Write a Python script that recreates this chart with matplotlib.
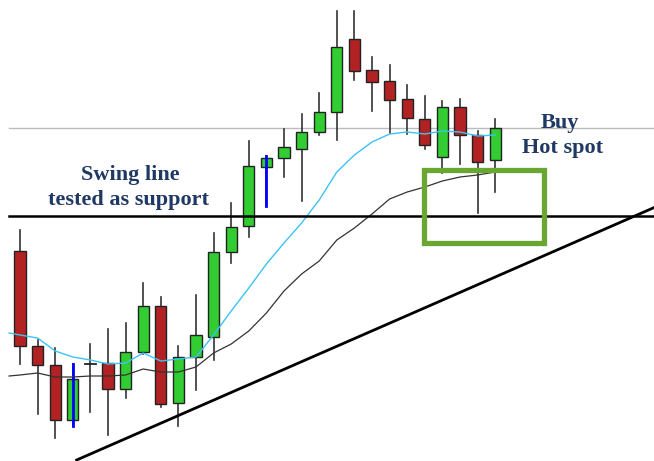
import numpy as np
import matplotlib.pyplot as plt
from matplotlib.patches import Rectangle

# daily candles, oldest first
opens  = [210, 115, 96, 41, 97, 98, 72, 109, 155, 58, 104, 124, 209, 235,
          294, 303, 312, 329, 349, 422, 391, 380, 362, 342, 304, 354, 326, 301]
highs  = [231, 121, 113, 97, 117, 132, 138, 178, 164, 115, 166, 228, 258, 320,
          305, 332, 347, 368, 450, 450, 404, 396, 376, 365, 360, 362, 330, 342]
lows   = [97, 47, 23, 35, 49, 26, 63, 107, 54, 35, 71, 101, 198, 224,
          255, 284, 260, 326, 321, 381, 350, 328, 327, 312, 288, 297, 248, 269]
closes = [115, 96, 41, 82, 97, 72, 109, 155, 57, 104, 126, 209, 234, 295,
          303, 314, 329, 349, 414, 390, 379, 361, 343, 316, 354, 326, 299, 333]
marked = [3, 14]   # candles with highlighted wicks

# moving averages (first value sits just before the first candle)
ma_x = [-0.62] + list(range(28))
ma_fast = [128, 126, 123, 110, 104, 101, 97, 98, 108, 100, 102, 104, 126, 150,
           173, 197, 218, 238, 261, 289, 306, 319, 327, 329, 327, 330, 329, 325, 326]
ma_slow = [85, 86, 88, 84, 84, 85, 85, 86, 92, 89, 89, 94, 108, 117,
           130, 148, 170, 187, 200, 221, 233, 247, 262, 269, 274, 280, 284, 286, 289]

support = 245
resistance = 333
trend_x = [3.22, 36.1]
trend_y = [1, 254]

fig = plt.figure(figsize=(6.54, 4.61), dpi=100)
ax = fig.add_axes([0, 0, 1, 1])
ax.set_xlim(-20 / 17.6, 634 / 17.6)
ax.set_ylim(0, 461)
ax.axis('off')

w = 0.63
for i in range(len(opens)):
    o, h, l, c = opens[i], highs[i], lows[i], closes[i]
    ax.plot([i, i], [l, h], color='#333333', lw=1.2, zorder=2)
    if o == c:
        ax.plot([i - w / 2, i + w / 2], [o, o], color='#222222', lw=1.3, zorder=3)
    else:
        col = '#32cd32' if c > o else '#b22222'
        ax.add_patch(Rectangle((i - w / 2, min(o, c)), w, abs(c - o),
                               facecolor=col, edgecolor='#222222', lw=1, zorder=3))
    if i in marked:
        ax.plot([i, i], [l, h], color='#0000ff', lw=2, zorder=4)

ax.plot([-0.62, 36.1], [resistance, resistance], color='#bbbbbb', lw=1, zorder=1)
ax.plot(ma_x, ma_fast, color='#3cc3f5', lw=1, zorder=5)
ax.plot(ma_x, ma_slow, color='#333333', lw=0.9, zorder=5)
ax.plot([-0.62, 36.1], [support, support], color='black', lw=1.8, zorder=6)
ax.plot(trend_x, trend_y, color='black', lw=2, zorder=6)

# hot spot box
ax.add_patch(Rectangle((22.95, 218), 29.77 - 22.95, 291 - 218, fill=False,
                       edgecolor='#6aa632', lw=3.8, zorder=7))

txt = dict(color='#1f3864', fontsize=16, family='Liberation Serif',
           fontweight='bold', ha='center', va='center')
ax.text(6.25, 286, 'Swing line', **txt)
ax.text(6.19, 261, 'tested as support', **txt)
ax.text(30.68, 338, 'Buy', **txt)
ax.text(30.85, 313, 'Hot spot', **txt)

fig.savefig('out.png', dpi=100)
